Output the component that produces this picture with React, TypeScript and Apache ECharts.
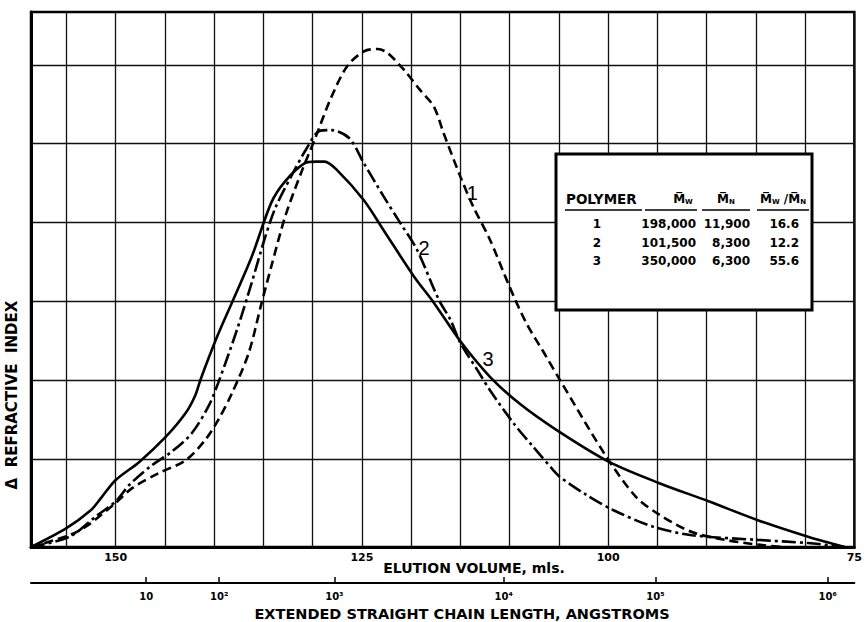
import React, { useEffect, useRef } from 'react';
import * as echarts from 'echarts';

// Elution volume (mls) axis
const elutionLabels = [150, 125, 100, 75];
// Extended straight chain length scale (positions on elution volume scale)
const chainLabels = ['10', '10²', '10³', '10⁴', '10⁵', '10⁶'];
const chainPositions = [146.9, 139.5, 127.8, 110.6, 95.2, 77.7];
// Horizontal grid lines (refractive index units)
const signalGrid = [1.117, 2.119, 3.122, 4.124, 5.127, 6.117];

// Polymer 1 (dashed)
const polymer1Volume = [158.6, 154.7, 153.0, 150.0, 148.3, 145.6, 142.9, 140.9, 139.6, 138.2, 136.5, 135.2, 134.2, 132.8, 131.2, 129.8, 128.1, 126.5, 124.8, 123.4, 122.4, 120.7, 119.1, 117.7, 116.7, 115.0, 113.7, 112.0, 110.0, 108.3, 106.3, 104.9, 100.2, 97.2, 94.8, 91.5, 88.1, 84.8, 82.1];
const polymer1Signal = [0, 0.15, 0.26, 0.56, 0.75, 0.94, 1.10, 1.36, 1.61, 1.95, 2.46, 3.09, 3.56, 4.19, 4.74, 5.17, 5.71, 6.10, 6.29, 6.32, 6.27, 6.05, 5.80, 5.59, 5.25, 4.70, 4.32, 3.90, 3.30, 2.84, 2.42, 2.12, 1.15, 0.64, 0.41, 0.19, 0.09, 0.03, 0];

// Polymer 2 (dash-dot)
const polymer2Volume = [158.6, 154.7, 152.0, 150.0, 148.6, 146.3, 144.3, 142.3, 140.6, 139.6, 137.7, 136.2, 134.9, 133.8, 132.2, 130.6, 129.3, 128.1, 126.3, 124.8, 122.8, 121.1, 119.4, 117.2, 116.0, 115.0, 113.3, 112.0, 109.6, 107.6, 105.6, 104.9, 102.2, 99.5, 95.5, 91.5, 84.8, 79.7, 76.0];
const polymer2Signal = [0, 0.13, 0.39, 0.58, 0.79, 1.04, 1.21, 1.44, 1.78, 2.08, 2.75, 3.35, 3.90, 4.30, 4.70, 5.06, 5.28, 5.29, 5.19, 4.87, 4.45, 4.11, 3.77, 3.14, 2.88, 2.59, 2.25, 1.99, 1.57, 1.27, 0.98, 0.89, 0.66, 0.47, 0.26, 0.15, 0.09, 0.05, 0];

// Polymer 3 (solid)
const polymer3Volume = [158.6, 155.0, 152.5, 151.5, 150.0, 147.6, 144.9, 142.9, 141.9, 141.4, 139.7, 138.2, 136.2, 134.2, 132.8, 130.8, 129.7, 128.8, 127.5, 124.8, 122.8, 119.7, 117.7, 115.0, 112.0, 109.0, 105.3, 99.9, 94.8, 89.8, 84.8, 79.7, 76.0];
const polymer3Signal = [0, 0.24, 0.47, 0.62, 0.85, 1.08, 1.40, 1.70, 1.93, 2.12, 2.67, 3.10, 3.68, 4.37, 4.64, 4.87, 4.89, 4.89, 4.78, 4.40, 4.02, 3.43, 3.10, 2.61, 2.16, 1.82, 1.49, 1.08, 0.81, 0.58, 0.34, 0.13, 0];

// Curve identification labels [volume, signal]
const curveLabelPos = [[113.8, 4.49], [118.7, 3.79], [112.2, 2.39]];

// Table
const tablePolymers = ['1', '2', '3'];
const tableMw = ['198,000', '101,500', '350,000'];
const tableMn = ['11,900', '8,300', '6,300'];
const tableRatio = ['16.6', '12.2', '55.6'];

const FONT = '"DejaVu Sans", sans-serif';

function zip(xs: number[], ys: number[]) {
  return xs.map((x, i) => [x, ys[i]]);
}

function curveLabel(idx: number, text: string) {
  return {
    silent: true,
    symbol: 'rect',
    symbolSize: 1,
    itemStyle: { color: 'rgba(0,0,0,0)' },
    label: {
      show: true,
      position: 'inside',
      formatter: text,
      color: '#000',
      fontSize: 20,
      fontFamily: '"Liberation Sans", sans-serif',
    },
    data: [{ coord: curveLabelPos[idx] }],
  };
}

export default function App() {
  const ref = useRef<HTMLDivElement>(null);
  useEffect(() => {
    const chart = echarts.init(ref.current!, null, { renderer: 'svg' });
    const rowY = [224, 242.5, 261];
    const tableTexts: any[] = [];
    const txt = (text: string, x: number, y: number, align: string, size = 12, extra: any = {}) => ({
      type: 'text',
      z: 102,
      x,
      y,
      style: {
        text,
        font: `bold ${size}px ${FONT}`,
        fill: '#000',
        align,
        verticalAlign: 'middle',
        textAlign: align,
        textVerticalAlign: 'middle',
        ...extra,
      },
    });
    tableTexts.push(txt('POLYMER', 566, 199, 'left', 13.5));
    const rich = {
      m: { font: `bold 12px ${FONT}`, fill: '#000' },
      s: { font: `bold 7px ${FONT}`, fill: '#000', padding: [5, 0, 0, 0] },
    };
    tableTexts.push(txt('{m|M\u0305}{s|W}', 683, 199, 'center', 12, { rich }));
    tableTexts.push(txt('{m|M\u0305}{s|N}', 726, 199, 'center', 12, { rich }));
    tableTexts.push(txt('{m|M\u0305}{s|W}{m| /M\u0305}{s|N}', 783, 199, 'center', 12, { rich }));
    tablePolymers.forEach((p, i) => {
      tableTexts.push(txt(p, 597, rowY[i], 'center'));
      tableTexts.push(txt(tableMw[i], 696, rowY[i], 'right'));
      tableTexts.push(txt(tableMn[i], 750, rowY[i], 'right'));
      tableTexts.push(txt(tableRatio[i], 799, rowY[i], 'right'));
    });
    const underlines = [[565, 642], [645, 697], [702, 750], [757, 809]].map(([a, b]) => ({
      type: 'line',
      z: 102,
      shape: { x1: a, y1: 210, x2: b, y2: 210 },
      style: { stroke: '#000', lineWidth: 1.6 },
    }));

    const option: any = {
      animation: false,
      backgroundColor: '#fff',
      grid: {
        left: 31,
        right: 4,
        top: 12,
        bottom: 75,
        show: true,
        borderColor: '#000',
        borderWidth: 2.5,
        backgroundColor: 'transparent',
      },
      xAxis: [
        {
          type: 'value',
          inverse: true,
          min: 75,
          max: 158.6,
          interval: 5,
          position: 'bottom',
          axisLine: { show: true, lineStyle: { color: '#000', width: 3 } },
          axisTick: { show: false },
          axisLabel: {
            margin: 5,
            color: '#000',
            fontFamily: FONT,
            fontWeight: 'bold',
            fontSize: 11,
            formatter: (v: number) => (elutionLabels.indexOf(Math.round(v * 10) / 10) >= 0 ? String(Math.round(v)) : ''),
          },
          splitLine: { show: true, lineStyle: { color: '#111', width: 1.3 } },
        },
        {
          type: 'value',
          inverse: true,
          min: 75,
          max: 158.6,
          position: 'bottom',
          offset: 36,
          axisLine: { show: true, onZero: false, lineStyle: { color: '#000', width: 2 } },
          axisTick: { show: true, inside: true, length: 6, customValues: chainPositions, lineStyle: { color: '#000', width: 1.5 } },
          axisLabel: {
            margin: 8,
            color: '#000',
            fontFamily: FONT,
            fontWeight: 'bold',
            fontSize: 10,
            customValues: chainPositions,
            formatter: (v: number) => {
              const i = chainPositions.findIndex((p) => Math.abs(p - v) < 1e-6);
              return i >= 0 ? chainLabels[i] : '';
            },
          },
          splitLine: { show: false },
        },
      ],
      yAxis: {
        type: 'value',
        min: 0,
        max: 6.789,
        axisLine: { show: true, onZero: false, lineStyle: { color: '#000', width: 3 } },
        axisTick: { show: false, customValues: signalGrid },
        axisLabel: { show: false, customValues: signalGrid },
        splitLine: { show: true, lineStyle: { color: '#111', width: 1.3 } },
      },
      series: [
        {
          type: 'line',
          name: '1',
          data: zip(polymer1Volume, polymer1Signal),
          smooth: 0.3,
          showSymbol: false,
          lineStyle: { color: '#000', width: 2.6, type: [9, 5] },
          markPoint: curveLabel(0, '1'),
          z: 5,
        },
        {
          type: 'line',
          name: '2',
          data: zip(polymer2Volume, polymer2Signal),
          smooth: 0.3,
          showSymbol: false,
          lineStyle: { color: '#000', width: 2.6, type: [14, 4, 3, 4] },
          markPoint: curveLabel(1, '2'),
          z: 5,
        },
        {
          type: 'line',
          name: '3',
          data: zip(polymer3Volume, polymer3Signal),
          smooth: 0.3,
          showSymbol: false,
          lineStyle: { color: '#000', width: 2.6 },
          markPoint: curveLabel(2, '3'),
          z: 5,
        },
      ],
      graphic: [
        {
          type: 'text',
          z: 50,
          x: 12,
          y: 395,
          rotation: Math.PI / 2,
          style: {
            text: 'Δ  REFRACTIVE  INDEX',
            font: `bold 15px ${FONT}`,
            fill: '#000',
            align: 'center',
            verticalAlign: 'middle',
            textAlign: 'center',
            textVerticalAlign: 'middle',
          },
        },
        txt('ELUTION VOLUME, mls.', 474, 568, 'center', 14),
        txt('EXTENDED STRAIGHT CHAIN LENGTH, ANGSTROMS', 462, 614, 'center', 14.5),
        {
          type: 'rect',
          z: 100,
          shape: { x: 556, y: 154, width: 256, height: 156 },
          style: { fill: '#fff', stroke: '#000', lineWidth: 3 },
        },
        ...underlines,
        ...tableTexts,
      ],
    };
    chart.setOption(option);
    return () => chart.dispose();
  }, []);
  return (
    <div
      ref={ref}
      style={{ position: 'fixed', left: 0, top: 0, width: 865, height: 622, background: '#fff' }}
    />
  );
}
